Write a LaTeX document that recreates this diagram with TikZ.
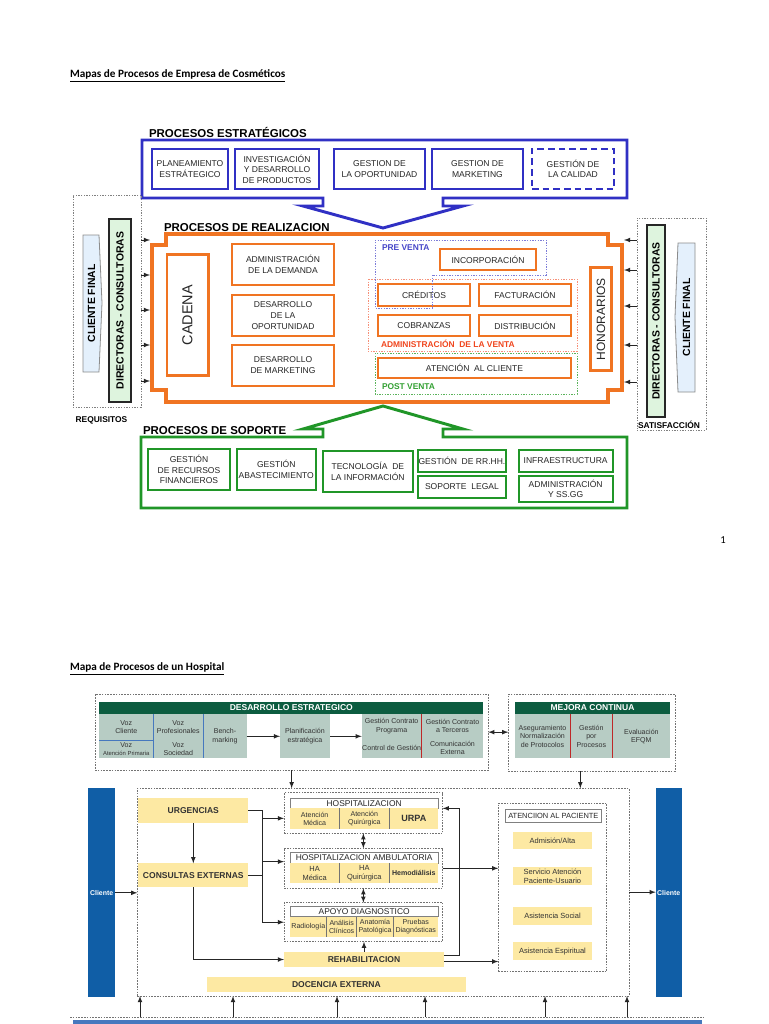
\documentclass[tikz,border=0pt]{standalone}
\usepackage{fontspec}
\setmainfont{Liberation Sans}
\newfontfamily\calibri{Carlito}
\usetikzlibrary{positioning}
\definecolor{azul}{RGB}{48,48,196}
\definecolor{naranja}{RGB}{240,116,34}
\definecolor{verde}{RGB}{32,150,40}
\definecolor{azulpv}{RGB}{70,70,200}
\definecolor{rojoav}{RGB}{240,70,30}
\definecolor{verdepv}{RGB}{50,160,50}
\definecolor{verdeosc}{RGB}{12,92,64}
\definecolor{gristeal}{RGB}{183,204,196}
\definecolor{amarillo}{RGB}{253,233,163}
\definecolor{azulcli}{RGB}{16,94,166}
\definecolor{celeste}{RGB}{228,240,252}
\definecolor{verdeclaro}{RGB}{222,244,222}
\definecolor{rojo}{RGB}{190,40,40}
\definecolor{azullin}{RGB}{70,120,190}
\begin{document}
\begin{tikzpicture}[x=0.75pt,y=-0.75pt,>=latex,
  every node/.style={inner sep=0pt,outer sep=0pt,align=center},
  zona/.style n args={4}{at={({(#1+#3)/2},{(#2+#4)/2})},minimum width={(#3-#1)*0.75pt},minimum height={(#4-#2)*0.75pt}},
  titproc/.style={anchor=west,font=\bfseries\fontsize{8.6}{10}\selectfont},
  cazul/.style={draw=azul,line width=1.5pt,fill=white,text=black!85,font=\fontsize{6.4}{7.8}\selectfont},
  cnar/.style={draw=naranja,line width=2pt,fill=white,text=black!85,font=\fontsize{6.4}{8.2}\selectfont},
  cver/.style={draw=verde,line width=1.5pt,fill=white,text=black!85,font=\fontsize{6.4}{8}\selectfont},
  etq/.style={font=\bfseries\fontsize{6.3}{7}\selectfont},
  lpunt/.style={draw=black!50,line width=0.5pt,dash pattern=on 1pt off 1pt},
  cfin/.style={fill=celeste,draw=black!45,line width=0.6pt},
  etqcf/.style={rotate=90,font=\bfseries\fontsize{7.8}{8}\selectfont},
  dirbox/.style={draw=black!85,line width=1.5pt,fill=verdeclaro,rotate=90,font=\bfseries\fontsize{7.8}{9}\selectfont},
  hpunt/.style={draw=black!55,line width=0.5pt,dash pattern=on 1.2pt off 0.9pt},
  cabec/.style={fill=verdeosc,text=white,font=\bfseries\fontsize{6.4}{7}\selectfont},
  celda/.style={fill=gristeal,text=black!80,font=\fontsize{5.3}{6.3}\selectfont},
  amar/.style={fill=amarillo,text=black!80,font=\bfseries\fontsize{6.4}{7}\selectfont},
  amarn/.style={fill=amarillo,text=black!80,font=\fontsize{5.6}{6.3}\selectfont},
  titbox/.style={fill=white,draw=black!50,line width=0.5pt,text=black!85,font=\fontsize{6.3}{7}\selectfont},
  hcel/.style={fill=amarillo,text=black!80,font=\fontsize{5.3}{6}\selectfont},
  cliente/.style={fill=azulcli,text=white,font=\bfseries\fontsize{5.2}{6}\selectfont},
  flecha/.style={->,line width=0.6pt,black!85}]
\fill[white] (0,0) rectangle (768,1024);
\useasboundingbox (0,0) rectangle (768,1024);

\node[anchor=west,font=\calibri\bfseries\fontsize{8.4}{10}\selectfont] (titulo1) at (70,76) {\underline{Mapas de Procesos de Empresa de Cosméticos}};

\node[titproc] (tpe) at (149,132) {PROCESOS ESTRATÉGICOS};
\draw[azul,line width=2.2pt] (142,140) -- (627,140) -- (627,198) -- (443,198) -- (443,206) -- (463,206) -- (383,228) -- (303,206) -- (323,206) -- (323,198) -- (142,198) -- cycle;
\node[cazul,zona={152}{149}{228}{189}] (plan) {PLANEAMIENTO\\ESTRÁTEGICO};
\node[cazul,zona={235}{149}{319}{189}] (invest) {INVESTIGACIÓN\\Y DESARROLLO\\DE PRODUCTOS};
\node[cazul,zona={334}{149}{425}{189}] (opor) {GESTION DE\\LA OPORTUNIDAD};
\node[cazul,zona={432}{149}{523}{189}] (mkt) {GESTION DE\\MARKETING};
\node[cazul,dash pattern=on 5pt off 3pt,zona={532}{149}{614}{189}] (calidad) {GESTIÓN DE\\LA CALIDAD};

\draw[naranja,line width=2.5pt] (166,234) -- (608,234) -- (608,245) -- (622,245) -- (622,390) -- (608,390) -- (608,402) -- (166,402) -- (166,390) -- (152,390) -- (152,245) -- (166,245) -- cycle;
\node[zona={152}{234}{622}{402}] (real) {};
\node[titproc] (tpr) at (164,228) {PROCESOS DE REALIZACION};
\node[cnar,rotate=90,minimum width=91pt,minimum height=31pt,font=\fontsize{10.8}{12}\selectfont] (cadena) at (187.5,315) {CADENA};
\node[cnar,zona={232}{244}{334}{285}] (demanda) {ADMINISTRACIÓN\\DE LA DEMANDA};
\node[cnar,zona={232}{295}{334}{336}] (desop) {DESARROLLO\\DE LA\\OPORTUNIDAD};
\node[cnar,zona={232}{345}{334}{386}] (desmk) {DESARROLLO\\DE MARKETING};
\node[cnar,zona={440}{249}{536}{270}] (incorp) {INCORPORACIÓN};
\node[cnar,zona={378}{284}{470}{306}] (cred) {CRÉDITOS};
\node[cnar,zona={479}{284}{571}{306}] (fact) {FACTURACIÓN};
\node[cnar,zona={378}{315}{470}{336}] (cobr) {COBRANZAS};
\node[cnar,zona={479}{315}{571}{336}] (distr) {DISTRIBUCIÓN};
\node[cnar,zona={378}{358}{571}{378}] (atcli) {ATENCIÓN\ \ AL CLIENTE};
\node[cnar,rotate=90,minimum width=77pt,minimum height=16pt,font=\fontsize{9}{10}\selectfont] (honor) at (601,319) {HONORARIOS};
\draw[azulpv!70,line width=0.5pt,dash pattern=on 1pt off 1pt] (375,240) -- (546,240) -- (546,275) -- (432,275) -- (432,308) -- (375,308) -- cycle;
\draw[rojoav!60,line width=0.5pt,dash pattern=on 1pt off 1pt] (368,279) rectangle (577,351);
\draw[verdepv!80,line width=0.5pt,dash pattern=on 1pt off 1pt] (375,353) rectangle (577,394);
\node[etq,text=azulpv,anchor=west] (lpre) at (382,248) {PRE VENTA};
\node[etq,text=rojoav,anchor=west] (ladm) at (381,344) {ADMINISTRACIÓN\ \ DE LA VENTA};
\node[etq,text=verdepv,anchor=west] (lpost) at (382,387) {POST VENTA};

\node[lpunt,zona={73}{195}{141}{407}] (ladoi) {};
\draw[cfin] (83,235) -- (99,235) -- (102,303) -- (99,372) -- (83,372) -- cycle;
\node[etqcf] (cfi) at (91.5,303.5) {CLIENTE FINAL};
\node[dirbox,minimum width=137pt,minimum height=16.5pt] (diri) at (120,310.5) {DIRECTORAS - CONSULTORAS};
\foreach \y in {240,275,310,345,381}
  \draw[flecha,shorten >=1.5pt] (ladoi.east |- 0,\y) -- (real.west |- 0,\y);
\node[etq] (requi) at (101.5,420) {REQUISITOS};

\node[lpunt,zona={637}{218}{706}{430}] (ladod) {};
\node[dirbox,minimum width=143.8pt,minimum height=13.7pt] (dird) at (656,321) {DIRECTORAS - CONSULTORAS};
\draw[cfin] (678,243) -- (695,243) -- (695,392) -- (678,392) -- (675,317) -- cycle;
\node[etqcf] (cfd) at (686.5,317.5) {CLIENTE FINAL};
\foreach \y in {240,270,306,345,382}
  \draw[flecha,shorten >=1.5pt] (ladod.west |- 0,\y) -- (real.east |- 0,\y);
\node[etq] (satis) at (669,425) {SATISFACCIÓN};

\node[titproc] (tps) at (143,431) {PROCESOS DE SOPORTE};
\draw[verde,line width=2.2pt] (141,437) -- (323,437) -- (323,429) -- (303,429) -- (383,406) -- (463,429) -- (443,429) -- (443,437) -- (627,437) -- (627,508) -- (141,508) -- cycle;
\node[cver,zona={148}{449}{230}{490}] (finan) {GESTIÓN\\DE RECURSOS\\FINANCIEROS};
\node[cver,zona={236.5}{449}{316}{490}] (abast) {GESTIÓN\\ABASTECIMIENTO};
\node[cver,zona={323}{451}{412.7}{492}] (tecno) {TECNOLOGÍA\ \ DE\\LA INFORMACIÓN};
\node[cver,zona={417.6}{450}{506.3}{471.5}] (rrhh) {GESTIÓN\ \ DE RR.HH.};
\node[cver,zona={417.6}{475.6}{506.3}{498}] (legal) {SOPORTE\ \ LEGAL};
\node[cver,zona={518.5}{450}{612.8}{471.5}] (infra) {INFRAESTRUCTURA};
\node[cver,zona={518.5}{475.6}{612.8}{502}] (admss) {ADMINISTRACIÓN\\Y SS.GG};

\node[font=\calibri\fontsize{8}{9}\selectfont] (pag) at (723,540) {1};

\node[anchor=west,font=\calibri\bfseries\fontsize{8.4}{10}\selectfont] (titulo2) at (70,669) {\underline{Mapa de Procesos de un Hospital}};

\node[hpunt,zona={95}{694.3}{488.3}{770}] (desest) {};
\node[cabec,zona={99.3}{701.7}{483.3}{714.3}] (cabde) {DESARROLLO ESTRATEGICO};
\node[celda,zona={99.3}{714.3}{153.3}{740}] (vozc) {Voz\\Cliente};
\node[celda,zona={99.3}{740}{153.3}{758.3}] (voza) {Voz\\{\fontsize{4.4}{5}\selectfont Atención Primaria}};
\node[celda,zona={153.3}{714.3}{203.3}{740}] (vozp) {Voz\\Profesionales};
\node[celda,zona={153.3}{740}{203.3}{758.3}] (vozs) {Voz\\Sociedad};
\node[celda,zona={203.3}{714.3}{246.7}{758.3}] (bench) {Bench-\\marking};
\node[celda,zona={280}{714.3}{330}{758.3}] (plani) {Planificación\\estratégica};
\node[celda,zona={361.7}{714.3}{421.7}{738}] (gcp) {Gestión Contrato\\Programa};
\node[celda,zona={361.7}{738}{421.7}{758.3}] (cgest) {Control de Gestión};
\node[celda,zona={421.7}{714.3}{483.3}{738}] (gct) {Gestión Contrato\\a Terceros};
\node[celda,zona={421.7}{738}{483.3}{758.3}] (comex) {Comunicación\\Externa};
\draw[azullin,line width=0.7pt] (vozc.north east) -- (vozs.south west);
\draw[azullin,line width=0.7pt] (vozp.north east) -- (vozs.south east);
\draw[azullin,line width=0.7pt] (vozc.south west) -- (vozc.south east);
\draw[rojo,line width=0.6pt] (gcp.north east) -- (cgest.south east);
\draw[flecha] (bench.east) -- (plani.west);
\draw[flecha] (plani.east) -- (plani.east -| gcp.west);

\node[hpunt,zona={508.3}{694.3}{675}{771}] (mejora) {};
\node[cabec,zona={515}{701.7}{670}{714.3}] (cabmc) {MEJORA CONTINUA};
\node[celda,zona={515}{714.3}{570}{758.3}] (asegu) {Aseguramiento\\Normalización\\de Protocolos};
\node[celda,zona={570}{714.3}{612.7}{758.3}] (gproc) {Gestión\\por\\Procesos};
\node[celda,zona={612.7}{714.3}{670}{758.3}] (efqm) {Evaluación\\EFQM};
\draw[rojo,line width=0.6pt] (asegu.north east) -- (asegu.south east);
\draw[rojo,line width=0.6pt] (gproc.north east) -- (gproc.south east);
\draw[flecha,<->] (desest.east) -- (desest.east -| mejora.west);

\node[hpunt,zona={137.3}{788.3}{629}{996}] (centro) {};
\node[cliente,zona={88.3}{788.3}{115}{997.3}] (clii) {Cliente};
\node[cliente,zona={655.7}{788.3}{681.7}{997.3}] (clid) {Cliente};
\draw[flecha] (clii.east) -- (clii.east -| centro.west);
\draw[flecha] (centro.east) -- (centro.east -| clid.west);
\draw[flecha] (desest.south) -- (desest.south |- centro.north);
\coordinate (m1) at ([xshift=-8.5pt]mejora.south);
\draw[flecha] (m1) -- (m1 |- centro.north);

\node[amar,zona={138.3}{798.3}{248.3}{823.3}] (urg) {URGENCIAS};
\node[amar,zona={138.3}{863.3}{248.3}{887.3}] (cons) {CONSULTAS EXTERNAS};
\node[amar,zona={284}{951.7}{444}{967.3}] (rehab) {REHABILITACION};
\node[amar,zona={206.7}{976.7}{466}{992.3}] (docen) {DOCENCIA EXTERNA};

\node[hpunt,zona={284}{792.7}{442.7}{833.3}] (hospi) {};
\node[titbox,zona={290}{798.3}{438.3}{808.3}] (thospi) {HOSPITALIZACION};
\node[hcel,zona={290}{808.3}{339.3}{829.3}] (amed) {Atención\\Médica};
\node[hcel,zona={339.3}{808.3}{389.3}{829.3}] (aqui) {Atención\\Quirúrgica};
\node[hcel,font=\bfseries\fontsize{6.8}{7}\selectfont,zona={389.3}{808.3}{438.3}{829.3}] (urpa) {URPA};

\node[hpunt,zona={284}{848.3}{442.7}{888.3}] (hamb) {};
\node[titbox,zona={290}{852.7}{438.3}{863.3}] (thamb) {HOSPITALIZACION AMBULATORIA};
\node[hcel,font=\fontsize{5.6}{6.3}\selectfont,zona={290}{863.3}{339.3}{883.3}] (hamed) {HA\\Médica};
\node[hcel,font=\fontsize{5.6}{6.3}\selectfont,zona={339.3}{863.3}{389.3}{883.3}] (haqui) {HA\\Quirúrgica};
\node[hcel,font=\bfseries\fontsize{5.3}{6}\selectfont,zona={389.3}{863.3}{438.3}{883.3}] (hemo) {Hemodiálisis};

\node[hpunt,zona={284}{902.7}{442.7}{941.7}] (apoyo) {};
\node[titbox,zona={290}{906.7}{438.3}{916.7}] (tapoyo) {APOYO DIAGNOSTICO};
\node[hcel,zona={290}{916.7}{326.7}{936.7}] (radio) {Radiología};
\node[hcel,zona={326.7}{916.7}{356.7}{936.7}] (anali) {Análisis\\Clínicos};
\node[hcel,zona={356.7}{916.7}{393.3}{936.7}] (anato) {Anatomía\\Patológica};
\node[hcel,zona={393.3}{916.7}{438.3}{936.7}] (prueb) {Pruebas\\Diagnósticas};
\foreach \c in {amed,aqui,hamed,haqui,radio,anali,anato}
  \draw[black!55,line width=0.6pt] (\c.north east) -- (\c.south east);

\node[hpunt,zona={498.3}{803.3}{606.7}{971.7}] (atenc) {};
\node[titbox,font=\fontsize{5.6}{6}\selectfont,zona={505}{809.3}{601.7}{822.7}] (taten) {ATENCIION AL PACIENTE};
\node[amarn,zona={513.3}{831.7}{591.7}{849.3}] (admis) {Admisión/Alta};
\node[amarn,zona={513.3}{867.3}{591.7}{885}] (servi) {Servicio Atención\\Paciente-Usuario};
\node[amarn,zona={513.3}{907.3}{591.7}{925}] (asoc) {Asistencia Social};
\node[amarn,zona={513.3}{942.3}{591.7}{960}] (aesp) {Asistencia Espiritual};

\coordinate (bus1) at (262.7,860);
\coordinate (bus2) at (459.3,880);
\coordinate (h1) at ([yshift=-4pt]hospi.west);
\coordinate (h2) at ([yshift=5pt]hamb.west);
\coordinate (h3) at ([yshift=3.5pt]hospi.east);
\coordinate (r1) at ([yshift=3pt]rehab.east);
\coordinate (r2) at ([yshift=-1.5pt]rehab.east);
\draw[flecha] (urg.south) -- (cons.north);
\draw[flecha] (cons.south) |- (rehab.west);
\draw[flecha] (urg.east) -| (bus1 |- apoyo.west) -- (apoyo.west);
\draw[flecha] (bus1 |- h1) -- (h1);
\draw[flecha] (bus1 |- h2) -- (h2);
\draw[line width=0.6pt,black!85] (cons.east) -- (cons.east -| bus1);
\draw[flecha,<->] (hospi.south) -- (hamb.north);
\draw[flecha,<->] (hamb.south) -- (apoyo.north);
\draw[flecha] (rehab.north) -- (rehab.north |- apoyo.south);
\draw[flecha] (r1) -| (bus2) |- (h3);
\draw[flecha] (hamb.east) -- (hamb.east -| atenc.west);
\draw[flecha] (r2) -- (r2 -| atenc.west);

\coordinate (sop) at (388,1017);
\draw[hpunt] (70,1017) -- (705,1017);
\foreach \x in {140,233,337,425,545,627}
  \draw[flecha] (\x,0 |- sop) -- (\x,0 |- centro.south);
\fill[azullin] (73,1020) rectangle (702,1030);
\end{tikzpicture}
\end{document}
